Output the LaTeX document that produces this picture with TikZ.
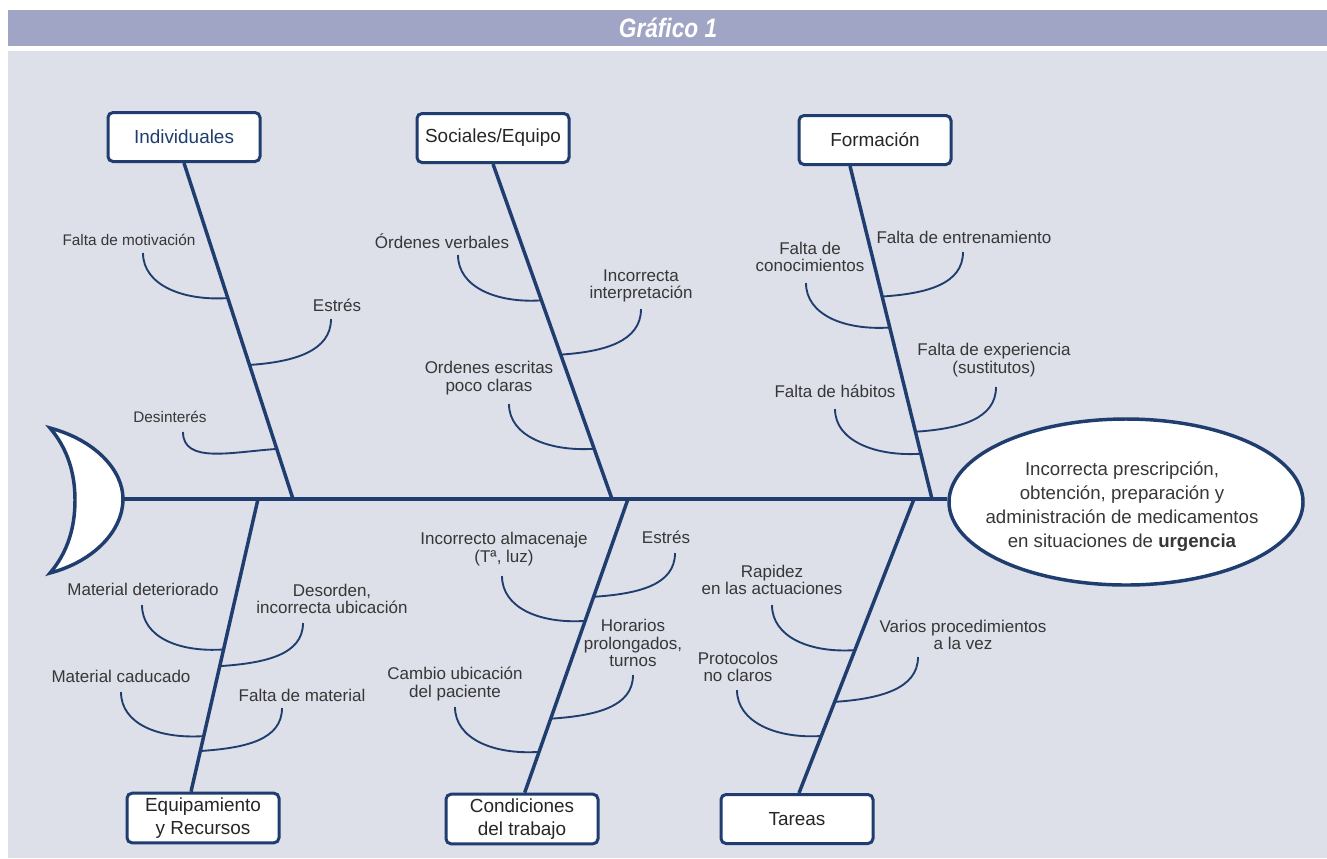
\documentclass[tikz,border=0pt]{standalone}
\usepackage{fontspec}
\setmainfont{Liberation Sans}
\usetikzlibrary{shapes}
\usetikzlibrary{calc}

\definecolor{navy}{RGB}{31,61,110}
\definecolor{barra}{RGB}{161,165,197}
\definecolor{fondo}{RGB}{221,223,233}
\definecolor{texto}{RGB}{55,55,55}

\begin{document}
\begin{tikzpicture}[x=0.75pt, y=-0.75pt,
		bone/.style={draw=navy, line width=2.6pt},
		twig/.style={draw=navy, line width=1.4pt},
		cat/.style={draw=navy, line width=2.25pt, fill=white, rounded corners=3.75pt, minimum width=114pt, minimum height=36.75pt, align=center, text=black!85, font=\fontsize{14.2}{17.3}\selectfont},
		cause/.style={align=center, inner sep=0pt, text=texto, font=\fontsize{12.75}{13.2}\selectfont},
		causesm/.style={cause, font=\fontsize{11.5}{13}\selectfont}]
		\useasboundingbox (0,0) rectangle (1327,858);
		\fill[fondo] (8,51) rectangle (1327,858);
		\fill[barra] (8,10) rectangle (1327,46);
		\node[text=white, font=\fontsize{20}{24}\selectfont\bfseries\itshape] (titulo) at (668,28) {\scalebox{0.85}[1]{Gráfico 1}};

		\node[cat, text=navy] (indiv) at (184,137) {Individuales};
		\node[cat] (social) at (493,138) {Sociales/Equipo};
		\node[cat] (formac) at (875,140) {Formación};
		\node[cat] (equip) at (203,818) {Equipamiento\\y Recursos};
		\node[cat] (condic) at (522,819) {Condiciones\\del trabajo};
		\node[cat] (tareas) at (797,819) {Tareas};
		\node[draw=navy, line width=2.6pt, fill=white, ellipse, inner sep=0pt, minimum width=265.5pt, minimum height=124.5pt] (efecto) at (1126,502) {};
		\node[align=center, text=texto, font=\fontsize{14}{18}\selectfont] (efecto-txt) at (1122,507) {Incorrecta prescripción,\\obtención, preparación y\\administración de medicamentos\\en situaciones de \textbf{urgencia}};

		\coordinate (cola) at (123,499);
		\coordinate (indiv-s) at (293,499);
		\coordinate (social-s) at (612,499);
		\coordinate (formac-s) at (932,499);
		\coordinate (equip-s) at (258,499);
		\coordinate (condic-s) at (628,499);
		\coordinate (tareas-s) at (914,499);
		\coordinate (indiv-t) at (indiv.south);
		\coordinate (social-t) at (social.south);
		\coordinate (formac-t) at ([xshift=-18.75pt]formac.south);
		\coordinate (equip-t) at ([xshift=-9pt]equip.north);
		\coordinate (condic-t) at ([xshift=2pt]condic.north);
		\coordinate (tareas-t) at ([xshift=1.5pt]tareas.north);

		\draw[bone] (cola) -- (cola -| efecto.west);
		\foreach \br in {indiv,social,formac,equip,condic,tareas}
			\draw[bone] (\br-t) -- (\br-s);

		% causas a la izquierda de cada espina
		\foreach \nm/\lx/\ly/\txt/\ux/\uy/\br/\fr/\sty in {
				motiv/129/240/{Falta de motivación}/143/253/indiv/0.598/causesm,
				desint/170/417/Desinterés/183/432/indiv/0.149/causesm,
				verbal/442/241/{Órdenes verbales}/458/255/social/0.593/cause,
				escrit/489/378/{Ordenes escritas\\poco claras}/509/404/social/0.150/cause,
				conoc/810/257/{Falta de\\conocimientos}/806/283/formac/0.515/cause,
				habit/835/391/{Falta de hábitos}/835/409/formac/0.136/cause,
				deter/143/589/{Material deteriorado}/142/605/equip/0.514/cause,
				caduc/121/676/{Material caducado}/121/692/equip/0.810/cause,
				almac/504/549/{Incorrecto almacenaje\\(Tª, luz)}/502/576/condic/0.415/cause,
				cambio/455/684/{Cambio ubicación\\del paciente}/455/707/condic/0.861/cause,
				rapid/772/580/{Rapidez\\en las actuaciones}/772/605/tareas/0.514/cause,
				protoc/738/667/{Protocolos\\no claros}/737/690/tareas/0.806/cause} {
			\node[\sty] (\nm) at (\lx,\ly) {\txt};
			\coordinate (\nm-u) at (\ux,\uy);
			\coordinate (\nm-b) at ($(\br-s)!\fr!(\br-t)$);
			\draw[twig] (\nm-u) .. controls +(0,32) and +(-45,3) .. (\nm-b);
		}

		% causas a la derecha
		\foreach \nm/\lx/\ly/\txt/\ux/\uy/\br/\fr/\sty in {
				estres1/337/305/Estrés/331/319/indiv/0.399/cause,
				interp/641/286/{Incorrecta\\interpretación}/641/309/social/0.431/cause,
				entren/964/237/{Falta de entrenamiento}/963/252/formac/0.608/cause,
				exper/994/360/{Falta de experiencia\\(sustitutos)}/996/387/formac/0.202/cause,
				desord/332/599/{Desorden,\\incorrecta ubicación}/303/623/equip/0.571/cause,
				faltam/302/695/{Falta de material}/282/708/equip/0.861/cause,
				estres2/666/537/Estrés/675/553/condic/0.333/cause,
				horar/633/643/{Horarios\\prolongados,\\turnos}/633/675/condic/0.748/cause,
				varios/963/635/{Varios procedimientos\\a la vez}/918/657/tareas/0.690/cause} {
			\node[\sty] (\nm) at (\lx,\ly) {\txt};
			\coordinate (\nm-u) at (\ux,\uy);
			\coordinate (\nm-b) at ($(\br-s)!\fr!(\br-t)$);
			\draw[twig] (\nm-b) .. controls +(45,-3) and +(0,32) .. (\nm-u);
		}

		\filldraw[draw=navy, fill=white, line width=2.6pt] (50,428) .. controls (95,440) and (123,470) .. (cola) .. controls (123,530) and (95,561) .. (50,573) .. controls (68,552) and (75,527) .. (75,500) .. controls (75,474) and (68,449) .. (50,428) -- cycle;
	\end{tikzpicture}
\end{document}
